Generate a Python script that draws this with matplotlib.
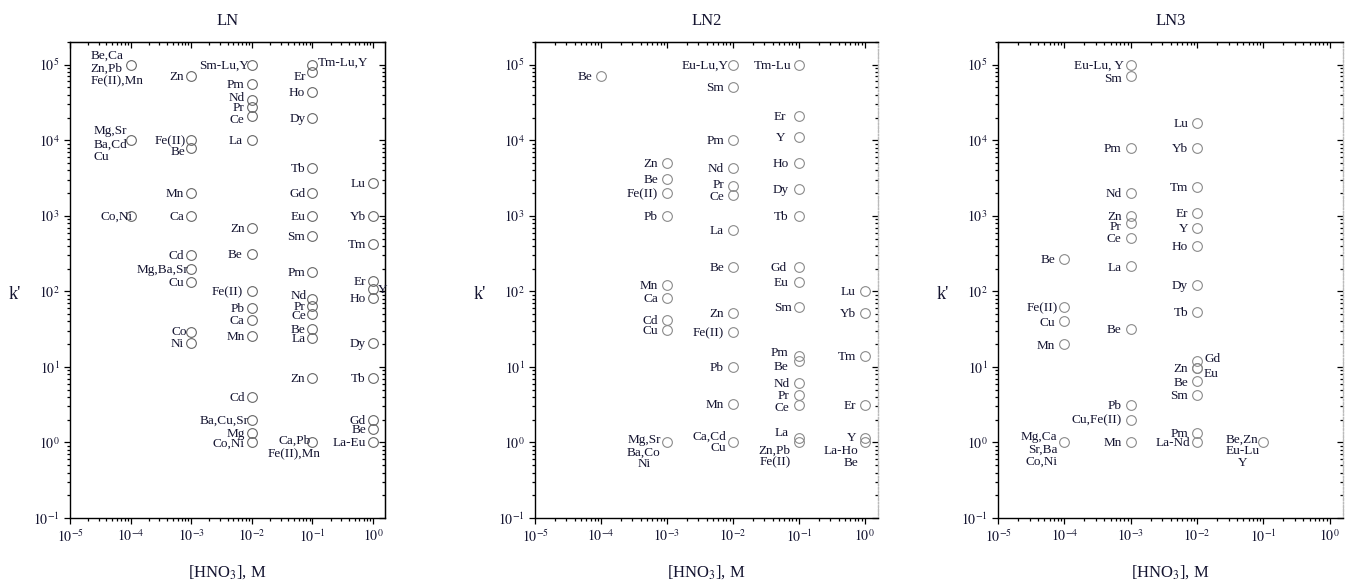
import matplotlib
matplotlib.use('Agg')
import matplotlib.pyplot as plt
from matplotlib.ticker import LogLocator, NullFormatter

plt.rcParams['font.family'] = ['Liberation Serif', 'DejaVu Serif']
plt.rcParams['mathtext.fontset'] = 'stix'

# ---------------- data ----------------
panel_titles = ['LN', 'LN2', 'LN3']
x_ticks = [1e-5, 1e-4, 1e-3, 1e-2, 1e-1, 1e0]
x_tick_labels = ['$10^{-5}$', '$10^{-4}$', '$10^{-3}$', '$10^{-2}$', '$10^{-1}$', '$10^{0}$']
y_ticks = [1e-1, 1e0, 1e1, 1e2, 1e3, 1e4, 1e5]
y_tick_labels = ['$10^{-1}$', '$10^{0}$', '$10^{1}$', '$10^{2}$', '$10^{3}$', '$10^{4}$', '$10^{5}$']

ln_conc = [1e-4, 1e-4, 1e-4,
           1e-3, 1e-3, 1e-3, 1e-3, 1e-3, 1e-3, 1e-3, 1e-3, 1e-3, 1e-3,
           1e-2, 1e-2, 1e-2, 1e-2,
           1e-2, 1e-2, 1e-2, 1e-2, 1e-2, 1e-2, 1e-2, 1e-2, 1e-2, 1e-2, 1e-2, 1e-2,
           1e-1, 1e-1, 1e-1, 1e-1, 1e-1, 1e-1, 1e-1, 1e-1, 1e-1, 1e-1, 1e-1, 1e-1, 1e-1, 1e-1, 1e-1, 1e-1,
           1.0, 1.0, 1.0, 1.0, 1.0, 1.0, 1.0, 1.0, 1.0, 1.0, 1.0]
ln_k = [1e5, 1e4, 1e3,
        7e4, 1e4, 8e3, 2e3, 1e3, 300, 200, 135, 29, 21,
        4, 2, 1.35, 1.0,
        1e5, 5.6e4, 3.4e4, 2.8e4, 2.1e4, 1e4, 680, 310, 100, 60, 42, 26,
        1e5, 8e4, 4.3e4, 2e4, 4.3e3, 2e3, 1e3, 545, 178, 80, 65, 50, 32, 24, 7.2, 1.0,
        2.7e3, 1e3, 430, 138, 107, 81, 21, 7.2, 2, 1.5, 1.0]
ln_labels = ['Be,Ca\nZn,Pb\nFe(II),Mn', 'Mg,Sr\nBa,Cd\nCu', 'Co,Ni',
             'Zn', 'Fe(II)', 'Be', 'Mn', 'Ca', 'Cd', 'Mg,Ba,Sr', 'Cu', 'Co', 'Ni',
             'Cd', 'Ba,Cu,Sr', 'Mg', 'Co,Ni',
             'Sm-Lu,Y', 'Pm', 'Nd', 'Pr', 'Ce', 'La', 'Zn', 'Be', 'Fe(II)', 'Pb', 'Ca', 'Mn',
             'Tm-Lu,Y', 'Er', 'Ho', 'Dy', 'Tb', 'Gd', 'Eu', 'Sm', 'Pm', 'Nd', 'Pr', 'Ce', 'Be', 'La', 'Zn',
             'Ca,Pb\nFe(II),Mn',
             'Lu', 'Yb', 'Tm', 'Er', 'Y', 'Ho', 'Dy', 'Tb', 'Gd', 'Be', 'La-Eu']

ln2_conc = [1e-4,
            1e-3, 1e-3, 1e-3, 1e-3, 1e-3, 1e-3, 1e-3, 1e-3, 1e-3,
            1e-2, 1e-2, 1e-2, 1e-2, 1e-2, 1e-2, 1e-2, 1e-2, 1e-2, 1e-2, 1e-2, 1e-2, 1e-2,
            1e-1, 1e-1, 1e-1, 1e-1, 1e-1, 1e-1, 1e-1, 1e-1, 1e-1, 1e-1, 1e-1, 1e-1, 1e-1, 1e-1, 1e-1, 1e-1,
            1.0, 1.0, 1.0, 1.0, 1.0, 1.0]
ln2_k = [7.2e4,
         5e3, 3.1e3, 2e3, 1e3, 123, 81, 42, 31, 1.0,
         1e5, 5.1e4, 1e4, 4.3e3, 2.5e3, 1.9e3, 655, 210, 51, 29, 10, 3.2, 1.0,
         1e5, 2.1e4, 1.1e4, 5e3, 2.3e3, 1e3, 210, 132, 62, 14, 12, 6.2, 4.2, 3.1, 1.16, 1.0,
         100, 51, 14, 3.1, 1.16, 1.0]
ln2_labels = ['Be',
              'Zn', 'Be', 'Fe(II)', 'Pb', 'Mn', 'Ca', 'Cd', 'Cu', 'Mg,Sr\nBa,Co\nNi',
              'Eu-Lu,Y', 'Sm', 'Pm', 'Nd', 'Pr', 'Ce', 'La', 'Be', 'Zn', 'Fe(II)', 'Pb', 'Mn', 'Ca,Cd\nCu',
              'Tm-Lu', 'Er', 'Y', 'Ho', 'Dy', 'Tb', 'Gd', 'Eu', 'Sm', 'Pm', 'Be', 'Nd', 'Pr', 'Ce', 'La',
              'Zn,Pb\nFe(II)',
              'Lu', 'Yb', 'Tm', 'Er', 'Y', 'La-Ho\nBe']

ln3_conc = [1e-4, 1e-4, 1e-4, 1e-4, 1e-4,
            1e-3, 1e-3, 1e-3, 1e-3, 1e-3, 1e-3, 1e-3, 1e-3, 1e-3, 1e-3, 1e-3, 1e-3,
            1e-2, 1e-2, 1e-2, 1e-2, 1e-2, 1e-2, 1e-2, 1e-2, 1e-2, 1e-2, 1e-2, 1e-2, 1e-2, 1e-2, 1e-2,
            1e-1]
ln3_k = [265, 62, 40, 20, 1.0,
         1e5, 7.2e4, 7.8e3, 2e3, 1e3, 810, 513, 218, 32, 3.1, 2.0, 1.0,
         1.7e4, 7.8e3, 2.4e3, 1.1e3, 690, 400, 123, 53, 12, 9.7, 9.7, 6.6, 4.2, 1.35, 1.0,
         1.0]
ln3_labels = ['Be', 'Fe(II)', 'Cu', 'Mn', 'Mg,Ca\nSr,Ba\nCo,Ni',
              'Eu-Lu, Y', 'Sm', 'Pm', 'Nd', 'Zn', 'Pr', 'Ce', 'La', 'Be', 'Pb', 'Cu,Fe(II)', 'Mn',
              'Lu', 'Yb', 'Tm', 'Er', 'Y', 'Ho', 'Dy', 'Tb', 'Gd', 'Zn', 'Eu', 'Be', 'Sm', 'Pm', 'La-Nd',
              'Be,Zn\nEu-Lu\nY']

# ---------------- label placement (style, offsets in pixels) ----------------
ln_offsets = {0: (-40, -4, 'left'), 1: (-37, -4, 'left'), 2: (2, -1, 'right'),
              4: (-5, -1, 'right'), 5: (-6, -4, 'right'), 9: (-3, -1, 'right'),
              11: (-4, 0, 'right'), 14: (-3, -1, 'right'), 17: (-3, -1, 'right'),
              19: (-7, 2, 'right'), 20: (-7, -1, 'right'), 21: (-7, -4, 'right'),
              22: (-9, -1, 'right'), 24: (-9, -1, 'right'), 25: (-9, -1, 'right'),
              29: (6, 2, 'left'), 30: (-6, -5, 'right'), 38: (-6, 3, 'right'),
              40: (-6, -2, 'right'), 44: (-18, -5, 'center'), 49: (5, -1, 'left')}
ln2_offsets = {9: (-23, -10, 'center'), 10: (-4, -1, 'right'), 14: (-9, 1, 'right'),
               15: (-9, -2, 'right'), 22: (-7, 0, 'right'),
               23: (-7, -1, 'right'), 24: (-13, -1, 'right'), 25: (-13, -1, 'right'),
               26: (-10, -1, 'right'), 27: (-10, -1, 'right'), 28: (-10, -1, 'right'),
               29: (-12, -1, 'right'), 30: (-10, -1, 'right'), 31: (-7, -1, 'right'),
               32: (-10, 3, 'right'), 33: (-10, -6, 'right'), 36: (-10, -3, 'right'),
               37: (-10, 5, 'right'), 38: (-8, -14, 'right'), 43: (-8, 0, 'right'),
               44: (-6, -15, 'right')}
ln3_offsets = {1: (-6, -1, 'right'), 2: (-9, -2, 'right'), 3: (-9, -2, 'right'),
               4: (-7, -7, 'right'), 5: (-7, -1, 'right'), 6: (-9, -3, 'right'),
               10: (-9, -4, 'right'), 12: (-9, -2, 'right'), 25: (7, 2, 'left'),
               27: (7, -6, 'left'), 28: (-9, -2, 'right'), 31: (-7, -1, 'right'),
               32: (-21, -9, 'center')}

panels = [
    (ln_conc, ln_k, ln_labels, ln_offsets, -7, '#666666', 1.1),
    (ln2_conc, ln2_k, ln2_labels, ln2_offsets, -9, '#8a8a8a', 1.0),
    (ln3_conc, ln3_k, ln3_labels, ln3_offsets, -9, '#8a8a8a', 1.0),
]

W, H = 1353, 584
fig = plt.figure(figsize=(W / 100, H / 100), dpi=100)
axes_px = [(70, 315), (535, 343), (998, 345)]
top_px, bot_px = 42, 518

text_color = '#141430'


def minor_loc():
    return LogLocator(base=10, subs=range(2, 10), numticks=20)


for i, ((conc, k, labels, offsets, dx_default, mcol, lsp), (left, width)) in enumerate(zip(panels, axes_px)):
    ax = fig.add_axes([left / W, 1 - bot_px / H, width / W, (bot_px - top_px) / H])
    ax.set_xscale('log')
    ax.set_yscale('log')
    ax.set_xlim(1e-5, 10 ** 0.2)
    ax.set_ylim(0.1, 2e5)
    ax.plot(conc, k, 'o', mfc='none', mec=mcol, ms=7, mew=0.8, ls='none')
    for j, (x, y, lab) in enumerate(zip(conc, k, labels)):
        dx, dy, ha = offsets.get(j, (dx_default, -1, 'right'))
        ax.annotate(lab, xy=(x, y), xytext=(dx, dy), textcoords='offset pixels',
                    ha=ha, va='center', multialignment=ha,
                    fontsize=9.5, color=text_color, linespacing=lsp)
    ax.set_xticks(x_ticks)
    ax.set_xticklabels(x_tick_labels)
    ax.set_yticks(y_ticks)
    ax.set_yticklabels(y_tick_labels)
    ax.xaxis.set_minor_locator(minor_loc())
    ax.yaxis.set_minor_locator(minor_loc())
    ax.xaxis.set_minor_formatter(NullFormatter())
    ax.yaxis.set_minor_formatter(NullFormatter())
    ax.tick_params(which='both', direction='out', top=False, right=False, labelsize=10,
                   labelcolor=text_color, width=0.9)
    ax.tick_params(which='major', length=4)
    ax.tick_params(which='minor', length=2.2)
    # inward ticks on the top and right edges
    sx = ax.secondary_xaxis('top')
    sx.set_xticks(x_ticks)
    sx.xaxis.set_minor_locator(minor_loc())
    sx.set_xticklabels([])
    sx.tick_params(which='both', direction='in', labeltop=False, width=0.9)
    sx.tick_params(which='major', length=4)
    sx.tick_params(which='minor', length=2.2)
    sy = ax.secondary_yaxis('right')
    sy.set_yticks(y_ticks)
    sy.yaxis.set_minor_locator(minor_loc())
    sy.set_yticklabels([])
    sy.tick_params(which='both', direction='in', labelright=False, width=0.9)
    sy.tick_params(which='major', length=4)
    sy.tick_params(which='minor', length=2.2)
    for s in ax.spines.values():
        s.set_linewidth(1.0)
    if i > 0:
        ax.spines['right'].set_color('#bbbbbb')
        ax.spines['right'].set_linestyle(':')
        sy.spines['right'].set_color('#bbbbbb')
        sy.spines['right'].set_linestyle(':')
    ax.set_title(panel_titles[i], fontsize=12, pad=12, color=text_color)
    ax.set_xlabel('[HNO$_3$], M', fontsize=12, color=text_color)
    ax.xaxis.set_label_coords(0.5, -0.095)
    ax.set_ylabel("k'", fontsize=13, rotation=0, color=text_color, va='center', ha='center')
    ax.yaxis.set_label_coords(-55 / width, 0.47)

fig.savefig('out.png', dpi=100)
